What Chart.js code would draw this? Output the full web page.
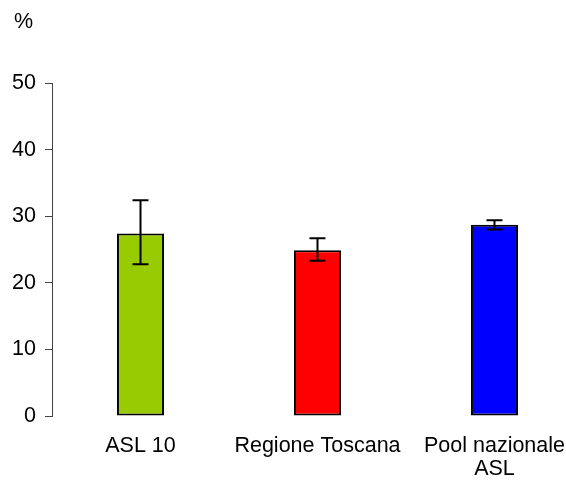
<!DOCTYPE html>
<html>
<head>
<meta charset="utf-8">
<script src="https://cdn.jsdelivr.net/npm/chart.js@4/dist/chart.umd.min.js"></script>
<style>
  html, body { margin: 0; padding: 0; background: #fff; overflow: hidden; }
  #wrap { position: absolute; left: 0; top: 0; width: 566px; height: 481px; }
</style>
</head>
<body>
<div id="wrap"><canvas id="c" width="566" height="481"></canvas></div>
<script>
// valori (percentuale, con intervallo di confidenza)
const categories = ['ASL 10', 'Regione Toscana', ['Pool nazionale', 'ASL']];
const values = [27.4, 24.9, 28.7];
const ciLow = [22.8, 23.3, 28.0];
const ciHigh = [32.4, 26.7, 29.4];
const barColors = ['#99cc00', '#ff0000', '#0000ff'];
const yTicks = [0, 10, 20, 30, 40, 50];

Chart.defaults.animation = false;
Chart.defaults.font.family = "'Liberation Sans', Arial, sans-serif";
Chart.defaults.color = '#000';

// barre d'errore disegnate con le scale del grafico
const errorBars = {
  id: 'errorBars',
  afterDatasetsDraw(chart) {
    const { ctx, scales: { x, y } } = chart;
    ctx.save();
    ctx.strokeStyle = '#000';
    ctx.lineWidth = 2;
    values.forEach((v, i) => {
      const px = x.getPixelForValue(i);
      const top = y.getPixelForValue(ciHigh[i]);
      const bot = y.getPixelForValue(ciLow[i]);
      ctx.beginPath();
      ctx.moveTo(px, top); ctx.lineTo(px, bot);
      ctx.moveTo(px - 8, top); ctx.lineTo(px + 8, top);
      ctx.moveTo(px - 8, bot); ctx.lineTo(px + 8, bot);
      ctx.stroke();
    });
    ctx.restore();
  }
};

// etichetta "%" in alto a sinistra
const unitLabel = {
  id: 'unitLabel',
  afterDraw(chart) {
    const ctx = chart.ctx;
    ctx.save();
    ctx.font = "21.5px 'Liberation Sans', Arial, sans-serif";
    ctx.fillStyle = '#000';
    ctx.textBaseline = 'middle';
    ctx.fillText('%', 14, 22);
    ctx.restore();
  }
};

new Chart(document.getElementById('c'), {
  type: 'bar',
  data: {
    datasets: [{
      data: values.map((v, i) => ({ x: i, y: v })),
      backgroundColor: barColors,
      borderColor: '#000',
      borderWidth: 2,
      borderSkipped: false,
      categoryPercentage: 1,
      barPercentage: 0.266,
    }],
  },
  options: {
    responsive: false,
    layout: { padding: { left: 0, right: 0, top: 83, bottom: 0 } },
    plugins: { legend: { display: false }, tooltip: { enabled: false } },
    scales: {
      // asse lineare: nell'originale l'ultima categoria sborda a destra
      x: {
        type: 'linear', min: -0.5, max: 2.404, offset: false,
        afterBuildTicks: s => { s.ticks = categories.map((c, i) => ({ value: i })); },
        afterFit: s => { s.height = 65; s.paddingLeft = 0; s.paddingRight = 0; },
        grid: { display: false, drawTicks: false },
        border: { display: false },
        ticks: {
          padding: 18, font: { size: 21.5, lineHeight: 1.1 }, color: '#000',
          maxRotation: 0, autoSkip: false,
          callback: v => categories[v],
        },
      },
      y: {
        min: 0, max: 50,
        afterBuildTicks: s => { s.ticks = yTicks.map(v => ({ value: v })); },
        afterFit: s => { s.width = 52; },
        grid: { drawOnChartArea: false, drawTicks: true, tickLength: 7, color: '#444', lineWidth: 1 },
        border: { display: true, color: '#444', width: 1 },
        ticks: { padding: 9, font: { size: 21.5 }, color: '#000' },
      },
    },
  },
  plugins: [errorBars, unitLabel],
});
</script>
</body>
</html>
